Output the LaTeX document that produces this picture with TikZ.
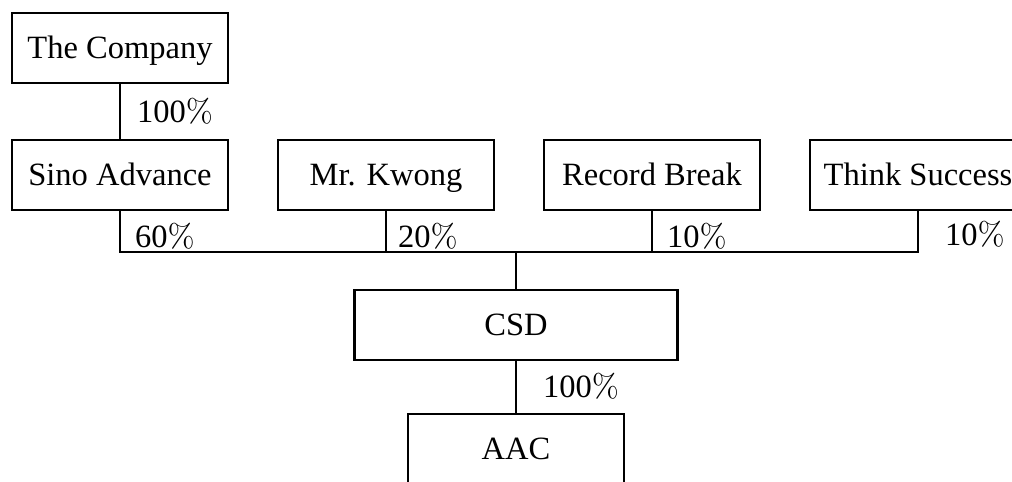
\documentclass[tikz,border=0pt]{standalone}
\usepackage{fontspec}
\setmainfont{Liberation Serif}
\newcommand{\pc}{\scalebox{1.85}{\fontsize{10}{12}\fontfamily{lmr}\selectfont\%}}
\tikzset{
  box/.style={draw,line width=1.6pt,minimum width=4.32cm,minimum height=1.4cm,inner sep=0pt,
    text height=12.2pt,text depth=0pt,font=\fontsize{18.5}{22}\selectfont},
  share/.style={inner sep=0pt,text height=12.2pt,text depth=0pt,font=\fontsize{18.5}{22}\selectfont}
}
\begin{document}
\begin{tikzpicture}[x=0.02cm,y=-0.02cm,line width=1.6pt]
  \useasboundingbox (0,0) rectangle (1012,482);
  \clip (0,0) rectangle (1012,482);
  \node[box] (company) at (120,48) {The Company};
  \node[box] (sino) at (120,175) {Sino Advance};
  \node[box] (kwong) at (386,175) {Mr. Kwong};
  \node[box] (record) at (652,175) {Record Break};
  \node[box] (think) at (918,175) {Think Success};
  \node[box,minimum width=6.46cm] (csd) at (516,325) {CSD};
  \node[box] (aac) at (516,449) {AAC};
  \coordinate (bus) at (516,252);
  \draw (company) -- (sino);
  \draw (sino.south) |- (bus) -| (think.south);
  \draw (kwong.south) -- (kwong.south |- bus);
  \draw (record.south) -- (record.south |- bus);
  \draw (bus) -- (csd);
  \draw (csd) -- (aac);
  \node[share] (p1) at (175,112) {100\pc};
  \node[share] (p2) at (165,237) {60\pc};
  \node[share] (p3) at (428,237) {20\pc};
  \node[share] (p4) at (697,237) {10\pc};
  \node[share] (p5) at (975,235) {10\pc};
  \node[share] (p6) at (581,387) {100\pc};
\end{tikzpicture}
\end{document}
